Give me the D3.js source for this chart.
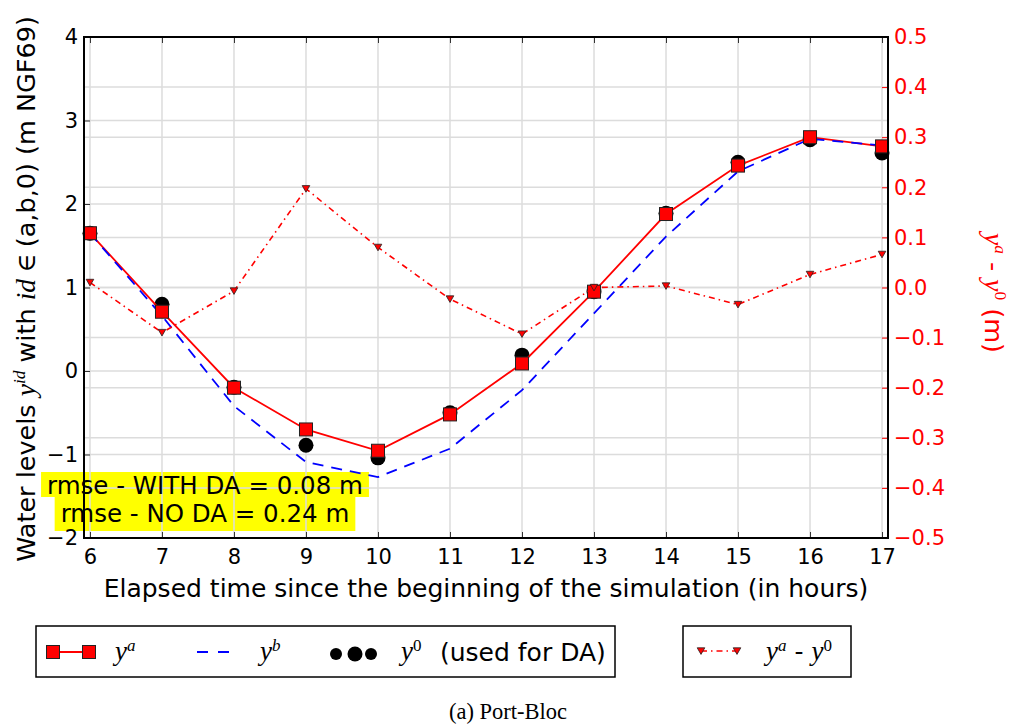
<!DOCTYPE html>
<html>
<head>
<meta charset="utf-8">
<script src="https://cdn.jsdelivr.net/npm/d3@7"></script>
<style>
  body { margin: 0; background: #fff; }
</style>
</head>
<body>
<svg id="chart" width="1009" height="726" font-family="DejaVu Sans, sans-serif"></svg>
<script>
// hours since start of the simulation
const hours = [6, 7, 8, 9, 10, 11, 12, 13, 14, 15, 16, 17]
// y^a : analysis (with DA)
const yAnalysis = [1.65, 0.71, -0.20, -0.70, -0.955, -0.52, 0.09, 0.95, 1.88, 2.46, 2.80, 2.69]
// y^b : background (no DA)
const yBackground = [1.65, 0.66, -0.42, -1.09, -1.27, -0.93, -0.23, 0.69, 1.61, 2.39, 2.78, 2.70]
// y^0 : observations used for DA
const yObs = [1.65, 0.80, -0.195, -0.89, -1.04, -0.50, 0.19, 0.95, 1.89, 2.50, 2.77, 2.61]
// y^a - y^0 (right axis)
const yDiff = [0.01, -0.09, -0.007, 0.197, 0.08, -0.023, -0.093, 0.0, 0.003, -0.034, 0.026, 0.066]

const leftTicks = [-2, -1, 0, 1, 2, 3, 4]
const rightTicks = [-0.5, -0.4, -0.3, -0.2, -0.1, 0.0, 0.1, 0.2, 0.3, 0.4, 0.5]
const rmseLines = ["rmse - WITH DA = 0.08 m", "rmse - NO DA = 0.24 m"]

const plot = {left: 84, right: 888, top: 37, bottom: 538}
const sansFont = '"DejaVu Sans", sans-serif'
const mathFont = '"Liberation Serif", "DejaVu Serif", serif'
const gridColor = "#dcdcdc"

const svg = d3.select("svg#chart")

const xScale = d3.scaleLinear().domain([5.917, 17.083]).range([plot.left, plot.right])
const yLeft = d3.scaleLinear().domain([-2, 4]).range([plot.bottom, plot.top])
const yRight = d3.scaleLinear().domain([-0.5, 0.5]).range([plot.bottom, plot.top])

// write text made of plain / math italic / superscript pieces
function richText(sel, parts, size) {
    let raised = false
    for (const p of parts) {
        const ts = sel.append("tspan").text(p.t)
        if (p.math) ts.attr("font-family", mathFont).attr("font-style", "italic")
        if (p.serif) ts.attr("font-family", mathFont)
        if (p.sup) {
            ts.attr("font-size", size * 0.68).attr("dy", -size * 0.38)
            raised = true
        } else {
            ts.attr("font-size", p.math ? size * 1.08 : size)
            if (raised) { ts.attr("dy", size * 0.38); raised = false }
        }
    }
}

// yellow rmse background (under the grid, like the reference)
const rmseX = 205, rmseBase = [494, 522], rmseSize = 24.5
const rmseBg = svg.append("g").classed("rmse-bg", true)
const rmseTxt = svg.append("g").classed("rmse-text", true)

// grid lines
const grid = svg.append("g").classed("grid", true)
    .attr("stroke", gridColor).attr("stroke-width", 1.5)
grid.selectAll("line.v").data(hours).enter().append("line").classed("v", true)
    .attr("x1", d => xScale(d)).attr("x2", d => xScale(d))
    .attr("y1", plot.top).attr("y2", plot.bottom)
grid.selectAll("line.hl").data(leftTicks).enter().append("line").classed("hl", true)
    .attr("x1", plot.left).attr("x2", plot.right)
    .attr("y1", d => yLeft(d)).attr("y2", d => yLeft(d))
grid.selectAll("line.hr").data(rightTicks).enter().append("line").classed("hr", true)
    .attr("x1", plot.left).attr("x2", plot.right)
    .attr("y1", d => yRight(d)).attr("y2", d => yRight(d))

// observations
svg.append("g").selectAll("circle")
    .data(hours).enter().append("circle")
    .attr("cx", d => xScale(d))
    .attr("cy", (d, i) => yLeft(yObs[i]))
    .attr("r", 7.5)
    .attr("fill", "#000")

const lineLeft = d3.line().x((d, i) => xScale(hours[i])).y(d => yLeft(d))

svg.append("path").datum(yAnalysis)
    .attr("d", lineLeft).attr("fill", "none")
    .attr("stroke", "#ff0000").attr("stroke-width", 1.8)

svg.append("path").datum(yBackground)
    .attr("d", lineLeft).attr("fill", "none")
    .attr("stroke", "#0000ff").attr("stroke-width", 1.8)
    .attr("stroke-dasharray", "11,8")

svg.append("g").selectAll("rect")
    .data(hours).enter().append("rect")
    .attr("x", d => xScale(d) - 6.5)
    .attr("y", (d, i) => yLeft(yAnalysis[i]) - 6.5)
    .attr("width", 13).attr("height", 13)
    .attr("fill", "#ff0000").attr("stroke", "#222").attr("stroke-width", 1)

// rmse text boxes
rmseTxt.raise()
rmseTxt.selectAll("text").data(rmseLines).enter().append("text")
    .attr("x", rmseX).attr("y", (d, i) => rmseBase[i])
    .attr("text-anchor", "middle").attr("font-size", rmseSize)
    .text(d => d)
    .each(function (d, i) {
        const w = this.getComputedTextLength()
        rmseBg.append("rect")
            .attr("x", rmseX - w / 2 - 6)
            .attr("y", i === 0 ? 472 : 497)
            .attr("width", w + 12)
            .attr("height", i === 0 ? 25 : 34)
            .attr("fill", "#ffff00")
    })

// y^a - y^0 on the twin axis
const lineRight = d3.line().x((d, i) => xScale(hours[i])).y(d => yRight(d))
svg.append("path").datum(yDiff)
    .attr("d", lineRight).attr("fill", "none")
    .attr("stroke", "#ff0000").attr("stroke-width", 1.6)
    .attr("stroke-dasharray", "6,4,1.5,4")

const triangle = (cx, cy) => `M${cx - 3.8},${cy - 3.2}L${cx + 3.8},${cy - 3.2}L${cx},${cy + 3.4}Z`
svg.append("g").selectAll("path")
    .data(hours).enter().append("path")
    .attr("d", (d, i) => triangle(xScale(d), yRight(yDiff[i])))
    .attr("fill", "#ff0000").attr("stroke", "#222").attr("stroke-width", 0.8)

// axes
const axisLeft = svg.append("g")
    .attr("transform", `translate(${plot.left},0)`)
    .call(d3.axisLeft(yLeft).tickValues(leftTicks).tickFormat(d3.format("d"))
        .tickSizeInner(-6).tickSizeOuter(0).tickPadding(6))
const axisBottom = svg.append("g")
    .attr("transform", `translate(0,${plot.bottom})`)
    .call(d3.axisBottom(xScale).tickValues(hours).tickFormat(d3.format("d"))
        .tickSizeInner(-6).tickSizeOuter(0).tickPadding(11))
const axisTop = svg.append("g")
    .attr("transform", `translate(0,${plot.top})`)
    .call(d3.axisTop(xScale).tickValues(hours).tickFormat("")
        .tickSizeInner(-6).tickSizeOuter(0))
const axisRight = svg.append("g")
    .attr("transform", `translate(${plot.right},0)`)
    .call(d3.axisRight(yRight).tickValues(rightTicks).tickFormat(d3.format(".1f"))
        .tickSizeInner(-6).tickSizeOuter(0).tickPadding(6))

for (const a of [axisLeft, axisBottom, axisTop, axisRight]) {
    a.attr("font-family", sansFont).attr("font-size", 21)
    a.select(".domain").remove()
    a.selectAll("text").attr("font-size", 21)
    a.selectAll("line").attr("stroke", "#333").attr("stroke-width", 1)
}
axisRight.selectAll("text").attr("fill", "#ff0000")
axisRight.selectAll("line").attr("stroke", "#ff0000")

svg.append("rect")
    .attr("x", plot.left).attr("y", plot.top)
    .attr("width", plot.right - plot.left).attr("height", plot.bottom - plot.top)
    .attr("fill", "none").attr("stroke", "#000").attr("stroke-width", 2)

// axis labels
svg.append("text")
    .attr("x", 486).attr("y", 597)
    .attr("text-anchor", "middle").attr("font-size", 25)
    .text("Elapsed time since the beginning of the simulation (in hours)")

const yLabel = svg.append("text")
    .attr("transform", "translate(35,289) rotate(-90)")
    .attr("text-anchor", "middle")
richText(yLabel, [
    {t: "Water levels "},
    {t: "y", math: true},
    {t: "id", math: true, sup: true},
    {t: " with "},
    {t: "id", math: true},
    {t: " \u2208 ", serif: true},
    {t: "(a,b,0) (m NGF69)"},
], 25.5)

const y2Label = svg.append("text")
    .attr("transform", "translate(985,293) rotate(90)")
    .attr("text-anchor", "middle").attr("fill", "#ff0000")
richText(y2Label, [
    {t: "y", math: true},
    {t: "a", math: true, sup: true},
    {t: "  -  "},
    {t: "y", math: true},
    {t: "0", serif: true, sup: true},
    {t: "   (m)"},
], 25.5)

// legend 1
const leg1 = svg.append("g")
leg1.append("rect").attr("x", 36).attr("y", 626).attr("width", 579).attr("height", 51)
    .attr("fill", "#fff").attr("stroke", "#000").attr("stroke-width", 1.5)
leg1.append("line").attr("x1", 53).attr("x2", 89).attr("y1", 652).attr("y2", 652)
    .attr("stroke", "#ff0000").attr("stroke-width", 1.8)
leg1.selectAll("rect.m").data([53, 89]).enter().append("rect").classed("m", true)
    .attr("x", d => d - 6.5).attr("y", 645.5).attr("width", 13).attr("height", 13)
    .attr("fill", "#ff0000").attr("stroke", "#222").attr("stroke-width", 1)
richText(leg1.append("text").attr("x", 115).attr("y", 660),
    [{t: "y", math: true}, {t: "a", math: true, sup: true}], 25)
leg1.append("line").attr("x1", 197).attr("x2", 230).attr("y1", 652).attr("y2", 652)
    .attr("stroke", "#0000ff").attr("stroke-width", 1.8).attr("stroke-dasharray", "11,10")
richText(leg1.append("text").attr("x", 260).attr("y", 660),
    [{t: "y", math: true}, {t: "b", math: true, sup: true}], 25)
leg1.selectAll("circle").data([[336, 6], [355, 7.5], [371, 6]]).enter().append("circle")
    .attr("cx", d => d[0]).attr("cy", 654).attr("r", d => d[1]).attr("fill", "#000")
richText(leg1.append("text").attr("x", 401).attr("y", 660),
    [{t: "y", math: true}, {t: "0", serif: true, sup: true}], 25)
leg1.append("text").attr("x", 440).attr("y", 661)
    .attr("font-size", 25).text("(used for DA)")

// legend 2
const leg2 = svg.append("g")
leg2.append("rect").attr("x", 683).attr("y", 626).attr("width", 168).attr("height", 51)
    .attr("fill", "#fff").attr("stroke", "#000").attr("stroke-width", 1.5)
leg2.append("line").attr("x1", 701).attr("x2", 737).attr("y1", 651).attr("y2", 651)
    .attr("stroke", "#ff0000").attr("stroke-width", 1.6).attr("stroke-dasharray", "6,4,1.5,4")
leg2.selectAll("path").data([701, 737]).enter().append("path")
    .attr("d", d => triangle(d, 651))
    .attr("fill", "#ff0000").attr("stroke", "#222").attr("stroke-width", 0.8)
richText(leg2.append("text").attr("x", 766).attr("y", 660), [
    {t: "y", math: true}, {t: "a", math: true, sup: true},
    {t: "  - "}, {t: "y", math: true}, {t: "0", serif: true, sup: true},
], 25)

// caption
svg.append("text")
    .attr("x", 508).attr("y", 719)
    .attr("text-anchor", "middle")
    .attr("font-family", mathFont).attr("font-size", 22.5)
    .text("(a) Port-Bloc")
</script>
</body>
</html>
